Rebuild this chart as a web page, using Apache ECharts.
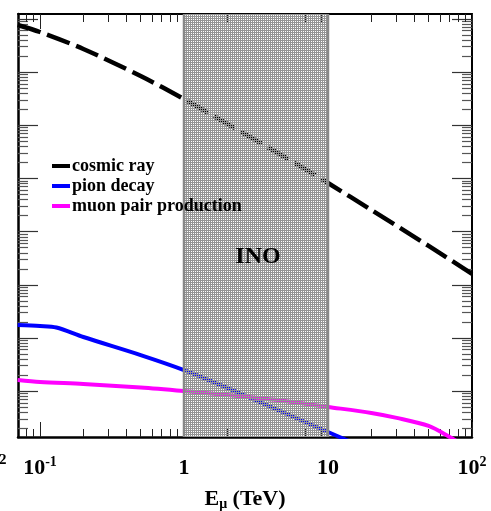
<!DOCTYPE html>
<html><head><meta charset="utf-8">
<script src="https://cdn.jsdelivr.net/npm/echarts@6/dist/echarts.min.js"></script>
<style>html,body{margin:0;padding:0;background:#fff}#c{width:491px;height:511px}</style>
</head><body><div id="c"></div>
<script>
// ---- data ----
const cosmicE   = [0.07, 0.1, 0.2, 0.5, 1, 2, 5, 10, 20, 50, 100];
const cosmicRay = [7690, 5675, 2720, 845, 312, 106, 25.3, 8.2, 2.55, 0.537, 0.16];
const pionE     = [0.07, 0.1, 0.13, 0.2, 0.5, 1, 2, 5, 10, 15];
const pionDecay = [0.01754, 0.0168, 0.01574, 0.01042, 0.00477, 0.00249, 0.001146, 0.000388, 0.00017, 0.0001057];
const muonE     = [0.07, 0.1, 0.2, 0.5, 1, 2, 5, 10, 20, 30, 50, 70, 80];
const muonPair  = [0.001618, 0.001486, 0.001361, 0.00117, 0.001004, 0.000845, 0.000652, 0.000504, 0.000388, 0.000313, 0.000221, 0.000137, 0.00011];
const seriesNames = ['cosmic ray', 'pion decay', 'muon pair production'];
const inoBand = [1, 10];
const inoLabel = 'INO';
const xTickLabels = [0.1, 1, 10, 100];
const xDecades = [0.01, 0.1, 1, 10];
const yDecades = [1e-4, 1e-3, 1e-2, 1e-1, 1, 10, 100, 1000];
const yMajorExtra = [1e4];
const cutLabel = '2';
const xTitle = ['E', 'μ', ' (TeV)'];

// ---- axis ranges ----
const xMin = 0.07036, xMax = 100;
const yMin = 1.37e-4, yMax = 12380;

const xMajor = xTickLabels.slice();
const xMinor = [];
xDecades.forEach(d => { for (let k = 2; k <= 9; k++) { const v = d * k; if (v > xMin && v < xMax) xMinor.push(v); } });
const yMajor = yDecades.filter(v => v > yMin).concat(yMajorExtra);
const yMinor = [];
yDecades.forEach(d => { for (let k = 2; k <= 9; k++) { const v = d * k; if (v > yMin && v < yMax) yMinor.push(v); } });

const pair = (xs, ys) => xs.map((x, i) => [x, ys[i]]);
const FONT = '"Liberation Serif", "Times New Roman", serif';

// band pattern
const pc = document.createElement('canvas');
pc.width = 2; pc.height = 2;
const g = pc.getContext('2d');
g.fillStyle = '#949494'; g.fillRect(0, 0, 2, 2);
g.clearRect(1, 1, 1, 1);

function xAx(pos, ticks, len, showLine, labels) {
  return {
    type: 'log', position: pos, min: xMin, max: xMax, gridIndex: 0,
    axisLine: { show: showLine, lineStyle: { color: '#000', width: pos === 'bottom' ? 2.5 : 2 } },
    axisTick: { show: true, inside: true, length: len, customValues: ticks, lineStyle: { color: '#222', width: 1 } },
    axisLabel: labels ? {
      show: true, customValues: xTickLabels, margin: 18,
      formatter: v => { const e = Math.round(Math.log10(v)); if (e === 0) return '{b|1}'; if (e === 1) return '{b|10}'; return '{b|10}{e|' + e + '}'; },
      rich: { b: { fontFamily: FONT, fontWeight: 'bold', fontSize: 22, lineHeight: 26, color: '#000' },
              e: { fontFamily: FONT, fontWeight: 'bold', fontSize: 14, verticalAlign: 'top', color: '#000' } }
    } : { show: false },
    splitLine: { show: false },
    name: labels ? '{b|' + xTitle[0] + '}{s|' + xTitle[1] + '}{b|' + xTitle[2] + '}' : '',
    nameLocation: 'middle', nameGap: 50,
    nameTextStyle: { rich: {
      b: { fontFamily: FONT, fontWeight: 'bold', fontSize: 22, color: '#000' },
      s: { fontFamily: FONT, fontWeight: 'bold', fontSize: 14, color: '#000', padding: [10, 0, 0, 0] } } }
  };
}
function yAx(pos, ticks, len, showLine, color) {
  return {
    type: 'log', position: pos, min: yMin, max: yMax, gridIndex: 0,
    axisLine: { show: showLine, lineStyle: { color: '#000', width: pos === 'left' ? 2.5 : 2 } },
    axisTick: { show: true, inside: true, length: len, customValues: ticks, lineStyle: { color: color, width: 1.2 } },
    axisLabel: { show: false }, splitLine: { show: false }
  };
}

const chart = echarts.init(document.getElementById('c'), null, { renderer: 'canvas' });
chart.setOption({
  animation: false,
  backgroundColor: '#fff',
  grid: { left: 18, right: 19, top: 14, bottom: 74, containLabel: false, outerBoundsMode: 'none' },
  xAxis: [
    xAx('bottom', xMajor, 15, true, true),
    xAx('bottom', xMinor, 8, false, false),
    xAx('top', xMajor, 15, true, false),
    xAx('top', xMinor, 8, false, false)
  ],
  yAxis: [
    yAx('left', yMajor, 20, true, '#333'),
    yAx('left', yMinor, 10, false, '#555'),
    yAx('right', yMajor, 20, true, '#333'),
    yAx('right', yMinor, 10, false, '#555')
  ],
  legend: {
    orient: 'vertical', left: 52, top: 157, itemGap: 2, padding: 0,
    icon: 'rect', itemWidth: 18, itemHeight: 4,
    data: seriesNames,
    textStyle: { fontFamily: FONT, fontWeight: 'bold', fontSize: 18, color: '#000', padding: [0, 0, 0, -3] },
    itemStyle: { borderWidth: 0 }
  },
  graphic: [{ type: 'text', left: -1, top: 453, style: { text: cutLabel, font: 'bold 15px ' + FONT, fill: '#000' } }],
  series: [
    { name: seriesNames[0], type: 'line', z: 1, color: '#000', symbol: 'none', smooth: 0.3,
      data: pair(cosmicE, cosmicRay), lineStyle: { color: '#000', width: 4.5, type: [24, 7] } },
    { name: seriesNames[1], type: 'line', z: 1, color: '#0000ff', symbol: 'none', smooth: 0.3,
      data: pair(pionE, pionDecay), lineStyle: { color: '#0000ff', width: 4 } },
    { name: seriesNames[2], type: 'line', z: 1, color: '#ff00ff', symbol: 'none', smooth: 0.3,
      data: pair(muonE, muonPair), lineStyle: { color: '#ff00ff', width: 4 } },
    { type: 'custom', z: 2, silent: true, data: [[inoBand[0], inoBand[1]]],
      encode: { x: [0, 1] },
      renderItem: (params, api) => {
        const cs = params.coordSys;
        const x0 = api.coord([api.value(0), yMin])[0];
        const x1 = api.coord([api.value(1), yMin])[0];
        return { type: 'group', children: [
          { type: 'rect', shape: { x: x0, y: cs.y, width: x1 - x0, height: cs.height },
            style: { fill: { image: pc, repeat: 'repeat' } } },
          { type: 'line', shape: { x1: x0, y1: cs.y, x2: x0, y2: cs.y + cs.height }, style: { stroke: '#888', lineWidth: 2.5 } },
          { type: 'line', shape: { x1: x1, y1: cs.y, x2: x1, y2: cs.y + cs.height }, style: { stroke: '#888', lineWidth: 2.5 } },
          { type: 'text', style: { text: inoLabel, x: (x0 + x1) / 2 + 2, y: cs.y + cs.height * 0.573,
              align: 'center', verticalAlign: 'middle', font: 'bold 24px ' + FONT, fill: '#000' } }
        ] };
      } }
  ]
});
</script></body></html>
